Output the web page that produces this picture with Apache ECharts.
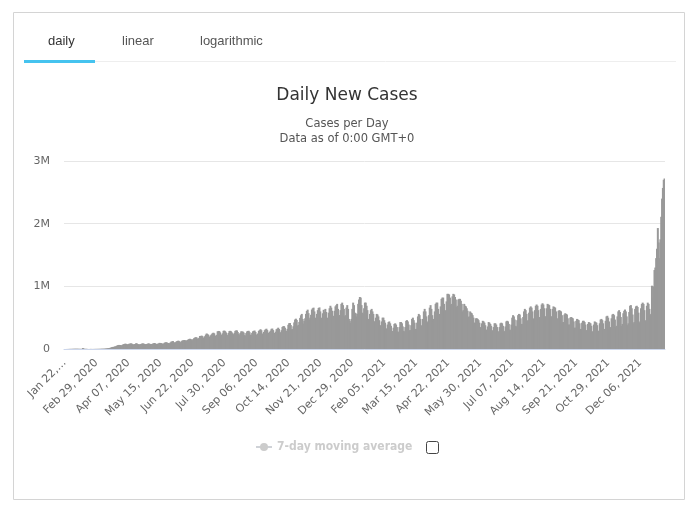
<!DOCTYPE html>
<html>
<head>
<meta charset="utf-8">
<script src="https://cdn.jsdelivr.net/npm/echarts@6/dist/echarts.min.js"></script>
<style>
  html, body { margin: 0; padding: 0; background: #fff; }
  #chart { width: 694px; height: 510px; }
</style>
</head>
<body>
<div id="chart"></div>
<script>
// daily new cases, in thousands, one row per week (Wed..Tue)
const cases2020 = [
  0.6, 0.1, 0.3, 0.7, 0.7, 0.8, 1.8,
  1.7, 2.0, 2.1, 2.6, 2.8, 3.2, 3.9,
  3.7, 3.2, 3.4, 2.7, 2.5, 2.1, 2.0,
  2.0, 15.1, 6.4, 2.1, 2.6, 2.0, 1.9,
  0.5, 0.6, 1.0, 1.0, 1.6, 0.5, 0.9,
  1.0, 1.3, 1.4, 1.8, 1.9, 2.0, 2.4,
  2.6, 2.6, 4.1, 4.0, 3.9, 4.0, 4.6,
  7.5, 7.3, 10.9, 11.3, 14.2, 16.9, 20.2,
  27.1, 31.9, 33.8, 34.0, 41.0, 41.1, 50.0,
  58, 63, 65, 63, 60, 57, 66,
  75, 79, 84, 83, 76, 72, 79,
  84, 85, 90, 86, 77, 70, 76,
  80, 90, 90, 80, 75, 72, 75,
  78, 86, 88, 88, 80, 76, 78,
  80, 85, 90, 85, 78, 76, 80,
  86, 90, 96, 90, 80, 78, 85,
  88, 98, 96, 94, 86, 82, 88,
  100, 106, 108, 102, 96, 88, 92,
  104, 118, 120, 126, 108, 98, 108,
  118, 128, 132, 130, 112, 106, 124,
  134, 138, 140, 142, 136, 126, 144,
  150, 156, 164, 160, 150, 140, 158,
  172, 182, 188, 186, 168, 160, 178,
  208, 206, 214, 206, 184, 170, 204,
  230, 248, 240, 226, 200, 190, 220,
  236, 252, 260, 250, 214, 200, 226,
  282, 288, 286, 266, 230, 216, 250,
  290, 294, 284, 264, 228, 218, 256,
  286, 290, 282, 264, 238, 232, 258,
  290, 296, 296, 270, 240, 222, 256,
  282, 278, 278, 262, 222, 212, 254,
  280, 288, 290, 268, 228, 226, 258,
  282, 290, 294, 272, 230, 228, 248,
  290, 300, 316, 300, 248, 232, 272,
  300, 314, 324, 302, 260, 244, 276,
  294, 322, 326, 302, 256, 242, 276,
  316, 324, 340, 320, 270, 256, 300,
  352, 364, 364, 340, 288, 290, 322,
  386, 412, 414, 382, 314, 318, 362,
  424, 470, 484, 464, 368, 384, 432,
  496, 538, 560, 480, 406, 448, 490,
  560, 608, 628, 572, 470, 500, 546,
  630, 650, 660, 600, 500, 490, 560,
  620, 654, 664, 600, 480, 500, 570,
  626, 590, 640, 590, 480, 500, 580,
  650, 690, 660, 610, 510, 530, 610,
  680, 700, 720, 640, 540, 540, 620,
  720, 740, 700, 640, 520, 540, 660,
  700, 640, 480, 450, 420, 480, 640,
  740, 700
];
const cases2021 = [
  580, 570, 520, 560, 720,
  790, 830, 820, 700, 580, 560, 650,
  740, 740, 690, 620, 480, 460, 560,
  620, 640, 600, 560, 440, 440, 500,
  560, 550, 520, 460, 370, 380, 440,
  500, 500, 460, 420, 330, 320, 390,
  430, 440, 410, 370, 285, 285, 340,
  400, 410, 390, 350, 280, 270, 350,
  430, 430, 410, 360, 290, 280, 350,
  450, 460, 440, 390, 300, 300, 380,
  480, 500, 460, 420, 320, 320, 420,
  520, 560, 540, 480, 370, 380, 480,
  600, 640, 600, 520, 420, 440, 540,
  660, 700, 640, 540, 440, 480, 600,
  720, 740, 740, 640, 540, 560, 680,
  800, 820, 820, 720, 600, 620, 760,
  880, 880, 870, 820, 700, 720, 840,
  880, 870, 830, 790, 670, 690, 790,
  800, 800, 770, 720, 600, 620, 720,
  690, 680, 650, 610, 510, 520, 600,
  580, 570, 540, 500, 420, 420, 490,
  490, 480, 460, 420, 350, 340, 410,
  450, 440, 420, 380, 310, 300, 360,
  430, 420, 400, 370, 300, 280, 350,
  410, 410, 390, 350, 280, 280, 350,
  410, 420, 410, 370, 290, 280, 360,
  440, 450, 440, 400, 310, 300, 390,
  500, 540, 520, 470, 370, 360, 460,
  540, 560, 550, 490, 400, 400, 510,
  600, 640, 620, 560, 450, 460, 580,
  660, 680, 660, 600, 480, 490, 620,
  690, 710, 690, 620, 500, 510, 640,
  710, 730, 710, 650, 520, 520, 650,
  720, 710, 700, 640, 520, 520, 640,
  680, 670, 660, 600, 480, 490, 610,
  620, 610, 600, 540, 430, 430, 550,
  570, 560, 550, 490, 390, 390, 500,
  510, 500, 490, 440, 340, 340, 450,
  480, 470, 460, 410, 320, 320, 420,
  450, 450, 430, 390, 300, 300, 400,
  430, 420, 410, 370, 280, 280, 390,
  440, 430, 420, 380, 290, 290, 410,
  470, 480, 460, 410, 310, 320, 450,
  520, 530, 500, 440, 330, 350, 490,
  550, 560, 540, 470, 350, 370, 520,
  600, 620, 590, 510, 370, 400, 570,
  610, 630, 600, 520, 380, 410, 590,
  690, 700, 650, 550, 410, 430, 640,
  680, 690, 670, 580, 420, 440, 650,
  720, 740, 720, 620, 440, 460, 690,
  740, 720, 640, 540, 560, 1010, 820,
  1000, 1260, 1300, 1450, 1600, 1930, 1700,
  1450, 1750, 2110
];
const cases2022 = [2400, 2570, 2700, 2720];

const firstDay = Date.UTC(2020, 0, 22);
const monthNames = ['Jan','Feb','Mar','Apr','May','Jun','Jul','Aug','Sep','Oct','Nov','Dec'];
const yTicks = [0, 1000, 2000, 3000];

const dailyCases = cases2020.concat(cases2021, cases2022);
const dates = dailyCases.map((v, i) => {
  const d = new Date(firstDay + i * 86400000);
  const dd = String(d.getUTCDate()).padStart(2, '0');
  return monthNames[d.getUTCMonth()] + ' ' + dd + ', ' + d.getUTCFullYear();
});

const chart = echarts.init(document.getElementById('chart'));

chart.setOption({
  animation: false,
  title: {
    text: 'Daily New Cases',
    subtext: 'Cases per Day\nData as of 0:00 GMT+0',
    left: 'center',
    top: 81,
    itemGap: 11,
    textStyle: { fontFamily: 'DejaVu Sans', fontSize: 17, fontWeight: 'normal', color: '#333', lineHeight: 20 },
    subtextStyle: { fontFamily: 'DejaVu Sans', fontSize: 11.5, color: '#555', lineHeight: 15 }
  },
  legend: {
    left: 250,
    top: 436,
    itemWidth: 16,
    itemHeight: 10,
    inactiveColor: '#ccc',
    selected: { '7-day moving average': false },
    textStyle: { fontFamily: 'DejaVu Sans Condensed', fontSize: 12, fontWeight: 'bold', color: '#333' },
    data: ['7-day moving average']
  },
  grid: { left: 64, right: 29, top: 161, bottom: 161 },
  xAxis: {
    type: 'category',
    data: dates,
    axisLine: { lineStyle: { color: '#ccd6eb' } },
    axisTick: { show: false },
    axisLabel: {
      interval: 37,
      rotate: 45,
      margin: 12,
      fontFamily: 'DejaVu Sans',
      fontSize: 11,
      color: '#666',
      formatter: (val, idx) => idx === 0 ? val.slice(0, 7) + '\u2026' : val
    }
  },
  yAxis: {
    type: 'value',
    min: yTicks[0],
    max: yTicks[yTicks.length - 1],
    interval: 1000,
    axisLine: { show: false },
    axisTick: { show: false },
    splitLine: { lineStyle: { color: '#e6e6e6' } },
    axisLabel: {
      margin: 14,
      fontFamily: 'DejaVu Sans',
      fontSize: 11,
      color: '#666',
      formatter: v => v === 0 ? '0' : (v / 1000) + 'M'
    }
  },
  series: [
    {
      name: 'Daily Cases',
      type: 'bar',
      data: dailyCases,
      barWidth: 2,
      itemStyle: { color: '#999' }
    },
    {
      name: '7-day moving average',
      type: 'line',
      data: [],
      symbol: 'circle',
      itemStyle: { color: '#ff9900' }
    }
  ],
  graphic: [
    // outer box
    { type: 'rect', shape: { x: 13.5, y: 12.5, width: 671, height: 487 },
      style: { fill: 'none', stroke: '#d4d4d4', lineWidth: 1 }, silent: true },
    // tabs
    { type: 'line', shape: { x1: 95, y1: 61.5, x2: 676, y2: 61.5 }, style: { stroke: '#eee', lineWidth: 1 } },
    { type: 'rect', shape: { x: 24, y: 60, width: 71, height: 3 }, style: { fill: '#45c3ef' } },
    { type: 'text', left: 48, top: 35, style: { text: 'daily', font: '13px "Liberation Sans"', fill: '#333' } },
    { type: 'text', left: 122, top: 35, style: { text: 'linear', font: '13px "Liberation Sans"', fill: '#555' } },
    { type: 'text', left: 200, top: 35, style: { text: 'logarithmic', font: '13px "Liberation Sans"', fill: '#555' } },
    // checkbox next to legend
    { type: 'rect', shape: { x: 426.5, y: 441.5, width: 12, height: 12, r: 2 },
      style: { fill: '#fff', stroke: '#444', lineWidth: 1 } }
  ]
});
</script>
</body>
</html>
